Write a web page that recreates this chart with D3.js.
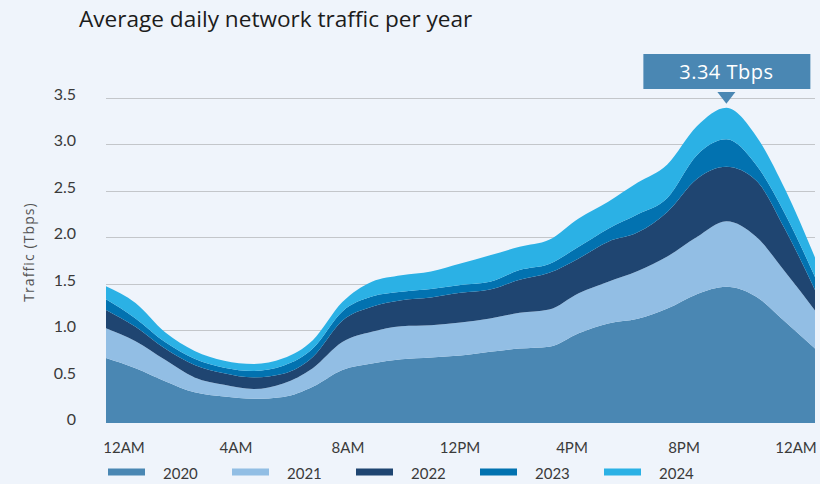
<!DOCTYPE html>
<html>
<head>
<meta charset="utf-8">
<script src="https://cdn.jsdelivr.net/npm/d3@7"></script>
<style>
  body { margin: 0; background: #eff4fb; }
  text { font-family: Lato, sans-serif; }
  text.wide { font-family: "Open Sans", "DejaVu Sans", sans-serif; }
</style>
</head>
<body>
<div id="traffic-chart"></div>
<script>
// Data (Tbps, hourly from 12AM to 12AM)
const hours = d3.range(0, 25);
const years = ['2020', '2021', '2022', '2023', '2024'];
const traffic2020 = [0.70, 0.59, 0.45, 0.33, 0.285, 0.26, 0.28, 0.39, 0.57, 0.64, 0.685, 0.705, 0.725, 0.765, 0.80, 0.82, 0.965, 1.07, 1.12, 1.23, 1.385, 1.465, 1.36, 1.085, 0.80];
const traffic2021 = [0.32, 0.29, 0.23, 0.16, 0.125, 0.105, 0.145, 0.20, 0.30, 0.34, 0.355, 0.345, 0.355, 0.36, 0.385, 0.40, 0.43, 0.45, 0.515, 0.56, 0.615, 0.705, 0.645, 0.535, 0.41];
const traffic2022 = [0.195, 0.155, 0.12, 0.135, 0.125, 0.125, 0.105, 0.12, 0.23, 0.27, 0.28, 0.30, 0.32, 0.31, 0.355, 0.395, 0.375, 0.43, 0.415, 0.48, 0.625, 0.585, 0.605, 0.455, 0.22];
const traffic2023 = [0.115, 0.09, 0.07, 0.065, 0.06, 0.07, 0.085, 0.09, 0.10, 0.11, 0.09, 0.09, 0.085, 0.085, 0.105, 0.095, 0.125, 0.14, 0.195, 0.15, 0.255, 0.295, 0.17, 0.165, 0.14];
const traffic2024 = [0.14, 0.165, 0.105, 0.085, 0.075, 0.075, 0.08, 0.09, 0.10, 0.16, 0.18, 0.19, 0.23, 0.285, 0.25, 0.26, 0.305, 0.29, 0.34, 0.36, 0.31, 0.34, 0.31, 0.265, 0.21];
const xTickLabels = ['12AM', '4AM', '8AM', '12PM', '4PM', '8PM', '12AM '];
const yTicks = [0, 0.5, 1.0, 1.5, 2.0, 2.5, 3.0, 3.5];
const peakLabel = '3.34 Tbps';

// Dimensions
const dims = {width: 820, height: 484};
const plot = {left: 106, right: 815, top: 97.5, bottom: 423};

// Colours
const colour = d3.scaleOrdinal()
  .domain(years)
  .range(['#4a87b3', '#92bee4', '#1f4571', '#0272b0', '#2bb1e5']);

// Table for the stack
const series = [traffic2020, traffic2021, traffic2022, traffic2023, traffic2024];
const table = hours.map((h, i) => {
  const row = {hour: h};
  years.forEach((y, j) => row[y] = series[j][i]);
  return row;
});

// Scales
const x = d3.scaleLinear().domain([0, 24]).range([plot.left, plot.right]);
const y = d3.scaleLinear().domain([0, 3.5]).range([plot.bottom, plot.top]);
const xLabel = d3.scalePoint().domain(xTickLabels).range([124, 796]);

// SVG
const svg = d3.select('#traffic-chart')
  .append('svg')
  .attr('width', dims.width)
  .attr('height', dims.height);

svg.append('rect')
  .attr('width', dims.width)
  .attr('height', dims.height)
  .attr('fill', '#eff4fb');

// Title
svg.append('text')
  .attr('class', 'wide')
  .attr('x', 79)
  .attr('y', 27)
  .attr('font-size', 22.6)
  .attr('fill', '#1c1c1c')
  .text('Average daily network traffic per year');

// Gridlines
svg.append('g')
  .attr('class', 'grid')
  .selectAll('line')
  .data(yTicks.filter(d => d > 0))
  .enter()
  .append('line')
    .attr('x1', plot.left)
    .attr('x2', plot.right)
    .attr('y1', d => Math.round(y(d)) + 0.5)
    .attr('y2', d => Math.round(y(d)) + 0.5)
    .attr('stroke', '#c3c6ca')
    .attr('stroke-width', 1.2);

// Y tick labels
svg.append('g')
  .attr('class', 'y-labels')
  .selectAll('text')
  .data(yTicks)
  .enter()
  .append('text')
    .attr('x', 76)
    .attr('y', d => y(d) + 2)
    .attr('text-anchor', 'end')
    .attr('font-size', 16)
    .attr('fill', '#3a3a3a')
    .text(d => d === 0 ? '0' : d.toFixed(1));

// Y axis title
svg.append('text')
  .attr('class', 'wide')
  .attr('transform', 'translate(34, 252) rotate(-90)')
  .attr('text-anchor', 'middle')
  .attr('font-size', 14)
  .attr('letter-spacing', 1.1)
  .attr('fill', '#555')
  .text('Traffic (Tbps)');

// Stacked areas
const stack = d3.stack().keys(years);
const area = d3.area()
  .x(d => x(d.data.hour))
  .y0(d => y(d[0]))
  .y1(d => y(d[1]))
  .curve(d3.curveMonotoneX);

svg.append('g')
  .attr('class', 'areas')
  .selectAll('path')
  .data(stack(table))
  .enter()
  .append('path')
    .attr('fill', d => colour(d.key))
    .attr('d', area);

// X tick labels
svg.append('g')
  .attr('class', 'x-labels')
  .selectAll('text')
  .data(xTickLabels)
  .enter()
  .append('text')
    .attr('x', d => xLabel(d))
    .attr('y', 453)
    .attr('text-anchor', 'middle')
    .attr('font-size', 15)
    .attr('fill', '#3a3a3a')
    .text(d => d.trim());

// Legend
const legend = svg.append('g')
  .attr('class', 'legend')
  .selectAll('g')
  .data(years)
  .enter()
  .append('g')
    .attr('transform', (d, i) => `translate(${108 + i * 124}, 0)`);

legend.append('rect')
  .attr('y', 468.5)
  .attr('width', 37)
  .attr('height', 7)
  .attr('fill', d => colour(d));

legend.append('text')
  .attr('x', 55)
  .attr('y', 479)
  .attr('font-size', 15)
  .attr('fill', '#3a3a3a')
  .text(d => d);

// Peak annotation
const totals = table.map(r => d3.sum(years, k => r[k]));
const peakIdx = d3.maxIndex(totals);
const px = x(hours[peakIdx]);
const py = y(totals[peakIdx]);

const note = svg.append('g').attr('class', 'annotation');

note.append('rect')
  .attr('x', px - 83)
  .attr('y', 54)
  .attr('width', 167)
  .attr('height', 35)
  .attr('fill', '#4a87b3');

note.append('text')
  .attr('class', 'wide')
  .attr('x', px)
  .attr('y', 78.5)
  .attr('text-anchor', 'middle')
  .attr('font-size', 20)
  .attr('letter-spacing', 0.5)
  .attr('fill', '#fff')
  .text(peakLabel);

note.append('path')
  .attr('d', `M${px - 9},92 L${px + 9},92 L${px},${py - 4} Z`)
  .attr('fill', '#4a87b3');
</script>
</body>
</html>
